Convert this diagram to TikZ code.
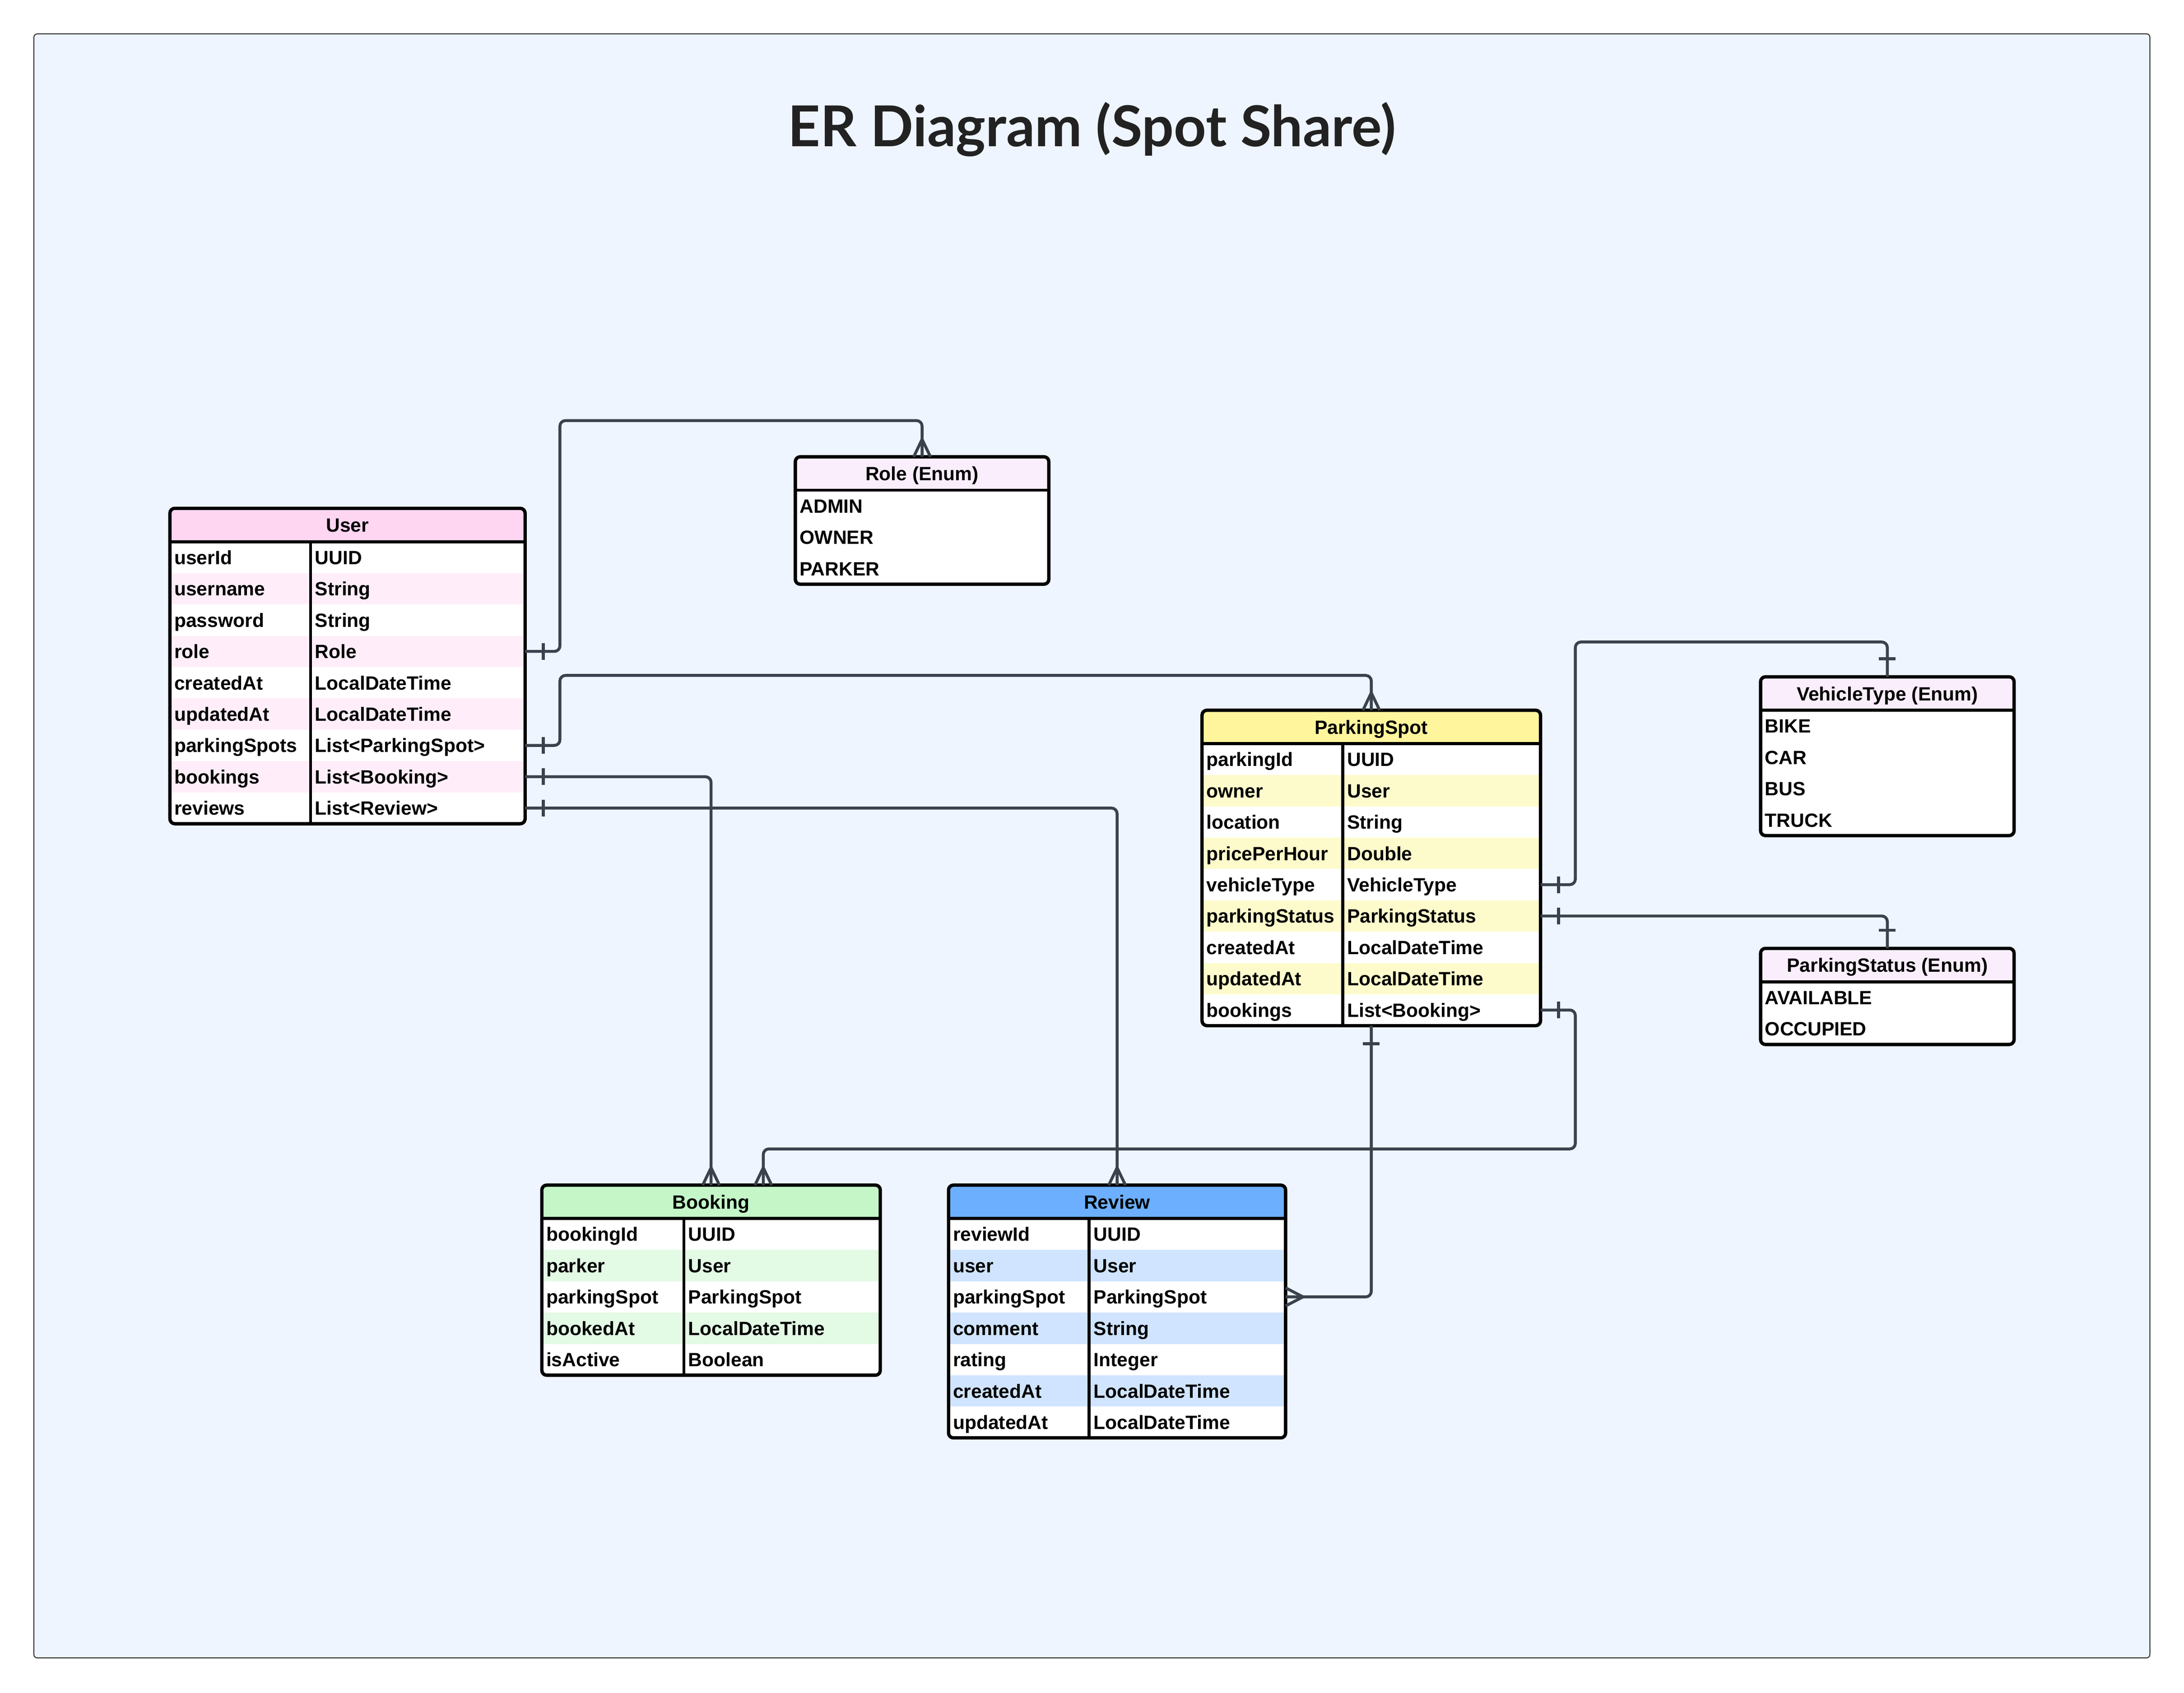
\documentclass[tikz,border=0pt]{standalone}
\usepackage{fontspec}
\setmainfont{Liberation Sans}
\newfontfamily\titlefont{Lato}
\usetikzlibrary{calc}
\definecolor{bgfill}{HTML}{EEF5FF}
\definecolor{conncol}{HTML}{3A424D}
\definecolor{titlecol}{HTML}{222222}
\definecolor{userhd}{HTML}{FFD6F2}
\definecolor{userst}{HTML}{FFEEF9}
\definecolor{enumhd}{HTML}{FAEEFC}
\definecolor{pshd}{HTML}{FFF59D}
\definecolor{psst}{HTML}{FDFBCB}
\definecolor{bkhd}{HTML}{C4F6C8}
\definecolor{bkst}{HTML}{E3FAE5}
\definecolor{rvhd}{HTML}{6CAFFF}
\definecolor{rvst}{HTML}{D0E4FF}

\tikzset{
  celltext/.style={anchor=base west, inner sep=0pt, font=\fontsize{13.8}{16}\selectfont\bfseries, text=black},
  hdrtext/.style={anchor=base, inner sep=0pt, font=\fontsize{13.8}{16}\selectfont\bfseries, text=black},
  rowbox/.style={draw=none, inner sep=0pt, outer sep=0pt, minimum height=22.5, anchor=north west},
  tblbox/.style={draw=black, line width=2.4, rounded corners=3.5, inner sep=0pt, outer sep=0pt, anchor=north west},
  sepline/.style={draw=black, line width=2.2},
  conn/.style={draw=conncol, line width=2.1, rounded corners=4},
  crow/.style={draw=conncol, line width=2.1, line join=round},
}

\newcommand\erentity[9]{%
  \foreach \a/\b [count=\i] in {#9} {\xdef\ernrows{\i}}%
  \pgfmathsetmacro\erh{24+\ernrows*22.5}%
  \begin{scope}
    \clip[rounded corners=3.5] (#2,#3) rectangle ++(#4,\erh);
    \fill[#6] (#2,#3) rectangle ++(#4,24);
    \foreach \a/\b [count=\i] in {#9} {
      \pgfmathsetmacro\ery{#3+24+(\i-1)*22.5}
      \pgfmathtruncatemacro\erodd{mod(\i,2)}
      \ifnum\erodd=0 \def\erfill{#7}\else\def\erfill{white}\fi
      \node[rowbox, fill=\erfill, minimum width=#4] (#1-\i) at (#2,\ery) {};
      \node[celltext] at (#2+3,\ery+16.25) {\a};
      \node[celltext] at (#2+#5+3,\ery+16.25) {\b};
    }
  \end{scope}
  \draw[sepline] (#2,#3+24) -- ++(#4,0);
  \draw[sepline] (#2+#5,#3+24) -- ++(0,\ernrows*22.5);
  \node[hdrtext] (#1-title) at (#2+#4/2,#3+17) {#8};
  \node[tblbox, minimum width=#4, minimum height=\erh] (#1) at (#2,#3) {};
}

\newcommand\erenum[5]{%
  \foreach \a [count=\i] in {#5} {\xdef\ernrows{\i}}%
  \pgfmathsetmacro\erh{24+\ernrows*22.5}%
  \begin{scope}
    \clip[rounded corners=3.5] (#2,#3) rectangle ++(182,\erh);
    \fill[enumhd] (#2,#3) rectangle ++(182,24);
    \foreach \a [count=\i] in {#5} {
      \pgfmathsetmacro\ery{#3+24+(\i-1)*22.5}
      \node[rowbox, fill=white, minimum width=182] (#1-\i) at (#2,\ery) {};
      \node[celltext] at (#2+3,\ery+16.25) {\a};
    }
  \end{scope}
  \draw[sepline] (#2,#3+24) -- ++(182,0);
  \node[hdrtext] (#1-title) at (#2+91,#3+17) {#4};
  \node[tblbox, minimum width=182, minimum height=\erh] (#1) at (#2,#3) {};
}

\begin{document}
\begin{tikzpicture}[x=1pt,y=-1pt]
\useasboundingbox (0,0) rectangle (1568,1215.4);
\fill[white] (0,0) rectangle (1568,1215.4);
\draw[draw=black!80, fill=bgfill, line width=0.7, rounded corners=2.5] (24.3,24.3) rectangle (1543.5,1190.5);

\node[font=\titlefont\bfseries\fontsize{40.5}{44}\selectfont, text=titlecol, inner sep=0pt] (title) at (784,93) {ER Diagram (Spot Share)};

% tables
\erentity{user}{122}{365}{255}{101}{userhd}{userst}{User}{userId/UUID, username/String, password/String, role/Role, createdAt/LocalDateTime, updatedAt/LocalDateTime, parkingSpots/List<ParkingSpot>, bookings/List<Booking>, reviews/List<Review>}
\erenum{role}{571}{328}{Role (Enum)}{ADMIN, OWNER, PARKER}
\erentity{ps}{863}{510}{243}{101}{pshd}{psst}{ParkingSpot}{parkingId/UUID, owner/User, location/String, pricePerHour/Double, vehicleType/VehicleType, parkingStatus/ParkingStatus, createdAt/LocalDateTime, updatedAt/LocalDateTime, bookings/List<Booking>}
\erenum{vt}{1264}{486}{VehicleType (Enum)}{BIKE, CAR, BUS, TRUCK}
\erenum{pst}{1264}{681}{ParkingStatus (Enum)}{AVAILABLE, OCCUPIED}
\erentity{booking}{389}{851}{243}{102}{bkhd}{bkst}{Booking}{bookingId/UUID, parker/User, parkingSpot/ParkingSpot, bookedAt/LocalDateTime, isActive/Boolean}
\erentity{review}{681}{851}{242}{101}{rvhd}{rvst}{Review}{reviewId/UUID, user/User, parkingSpot/ParkingSpot, comment/String, rating/Integer, createdAt/LocalDateTime, updatedAt/LocalDateTime}

% connectors
\coordinate (bk2) at ($(booking.north)+(37.5,0)$);
\draw[conn] (user-4.east) -| (402,302) -| (role.north);
\draw[conn] (user-7.east) -| (402,485) -| (ps.north);
\draw[conn] (user-8.east) -| (booking.north);
\draw[conn] (user-9.east) -| (review.north);
\draw[conn] (ps-5.east) -| (1131,461) -| (vt.north);
\draw[conn] (ps-6.east) -| (pst.north);
\draw[conn] (ps-9.east) -| (1131,825) -| (bk2);
\draw[conn] (ps.south) |- (review-3.east);

% one bars
\foreach \p in {user-4,user-7,user-8,user-9,ps-5,ps-6,ps-9}
  \draw[crow] ($(\p.east)+(13,-6)$) -- ++(0,12);
\draw[crow] ($(vt.north)+(-6,-13)$) -- ++(12,0);
\draw[crow] ($(pst.north)+(-6,-13)$) -- ++(12,0);
\draw[crow] ($(ps.south)+(-6,13)$) -- ++(12,0);

% crow feet
\foreach \p in {role.north,ps.north,booking.north,review.north,bk2}
  \draw[crow] ($(\p)+(-6,0)$) -- ($(\p)+(0,-12.5)$) -- ($(\p)+(6,0)$);
\draw[crow] ($(review-3.east)+(0,-6.5)$) -- ($(review-3.east)+(12.5,0)$) -- ($(review-3.east)+(0,6.5)$);
\end{tikzpicture}
\end{document}
